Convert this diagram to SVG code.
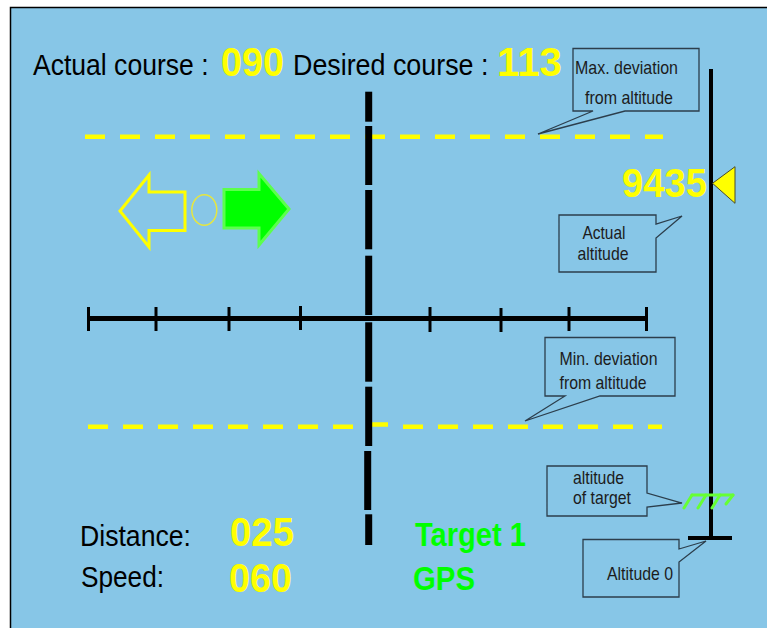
<svg xmlns="http://www.w3.org/2000/svg" width="767" height="628" viewBox="0 0 767 628">
<style>
.t{font-family:"Liberation Sans",Arial,sans-serif;}
.big{font-size:30px;fill:#000;}
.num{font-size:40px;font-weight:bold;fill:#FFFF00;}
.grn{font-size:33px;font-weight:bold;fill:#00FF00;}
.co{font-size:19px;fill:#1c1c1c;}
.box{fill:#87C6E7;stroke:#2c3e4c;stroke-width:1.3;}
.ydash{stroke:#FFFF00;stroke-width:4.5;stroke-dasharray:20 15;fill:none;}
</style>
<rect x="0" y="0" width="767" height="628" fill="#ffffff"/>
<rect x="10" y="7" width="757" height="621" fill="#87C6E7"/>
<path d="M10.5,628 V7.5 H767" fill="none" stroke="#000" stroke-width="1.5"/>

<g id="connectors">
  <line class="ydash" x1="85" y1="136.7" x2="663" y2="136.7"/>
  <line class="ydash" x1="88" y1="426.7" x2="365" y2="426.7"/>
  <line x1="372" y1="424.5" x2="388" y2="424.5" stroke="#FFFF00" stroke-width="4.5"/>
  <line class="ydash" x1="403" y1="426.7" x2="662" y2="426.7"/>
  <g id="vertical-axis" fill="#000">
    <rect x="365.2" y="91.7" width="7" height="30"/>
    <rect x="365.2" y="126" width="7" height="59"/>
    <rect x="365.2" y="190" width="7" height="59.3"/>
    <rect x="365.2" y="255.7" width="7" height="59.3"/>
    <rect x="365.2" y="322.3" width="7" height="59.4"/>
    <rect x="365.2" y="386.7" width="7" height="59.3"/>
    <rect x="364.2" y="451" width="7" height="59"/>
    <rect x="365.2" y="514.3" width="7" height="30.7"/>
  </g>
  <g id="horizontal-axis" stroke="#000">
    <line x1="88" y1="318.5" x2="647" y2="318.5" stroke-width="5"/>
    <g stroke-width="3">
      <line x1="88.5" y1="307" x2="88.5" y2="331"/>
      <line x1="156" y1="307" x2="156" y2="331"/>
      <line x1="229" y1="307" x2="229" y2="331"/>
      <line x1="300.5" y1="306" x2="300.5" y2="330"/>
      <line x1="430" y1="307" x2="430" y2="332"/>
      <line x1="501" y1="308" x2="501" y2="332"/>
      <line x1="569" y1="307" x2="569" y2="331"/>
      <line x1="646.5" y1="307" x2="646.5" y2="331"/>
    </g>
  </g>
  <g id="altitude-scale" stroke="#000" stroke-width="4">
    <line x1="711" y1="69" x2="711" y2="538"/>
    <line x1="688" y1="538" x2="732" y2="538"/>
  </g>
</g>

<g id="course-text" class="t">
  <text class="big" transform="translate(33,75) scale(0.885,1)" x="0" y="0">Actual course :</text>
  <text class="num" x="221" y="75.5" font-size="39" textLength="63" lengthAdjust="spacingAndGlyphs">090</text>
  <text class="big" transform="translate(293,75) scale(0.895,1)" x="0" y="0">Desired course :</text>
  <text class="num" x="497" y="75.5" font-size="39" textLength="65" lengthAdjust="spacingAndGlyphs">113</text>
</g>

<g id="direction-arrows">
  <polygon points="120,211 149,175 149,192 185,192 185,230.5 149,230.5 149,247" fill="none" stroke="#FFFF00" stroke-width="3" stroke-linejoin="miter"/>
  <ellipse cx="204.3" cy="210" rx="12.5" ry="15.3" fill="none" stroke="#E6E640" stroke-width="1.5"/>
  <polygon points="224,189.5 259,189.5 259,173.5 289,209 259,245 259,228 224,228" fill="#00FF00" stroke="#5CFF4C" stroke-width="3"/>
</g>

<g id="max-deviation">
  <path class="box" d="M573,48.5 H699 V111 H625 L538,134 L593,111 H573 Z"/>
  <text class="t co" x="575" y="74" textLength="103" lengthAdjust="spacingAndGlyphs">Max. deviation</text>
  <text class="t co" x="585" y="104" textLength="88" lengthAdjust="spacingAndGlyphs">from altitude</text>
</g>

<g id="actual-altitude-value">
  <text class="t num" x="622" y="197" font-size="41" textLength="85" lengthAdjust="spacingAndGlyphs">9435</text>
  <polygon points="712.5,183.3 735,166.7 735,203.3" fill="#FFFF00" stroke="#4a4a2a" stroke-width="1"/>
</g>

<g id="actual-altitude">
  <path class="box" d="M559,215 H656 V224 L682,216 L656,238 V272 H559 Z"/>
  <text class="t co" x="582.5" y="239" textLength="43" lengthAdjust="spacingAndGlyphs">Actual</text>
  <text class="t co" x="577.5" y="260" textLength="51" lengthAdjust="spacingAndGlyphs">altitude</text>
</g>

<g id="min-deviation">
  <path class="box" d="M545,337.5 H675 V396 H600 L525,421 L565,396 H545 Z"/>
  <text class="t co" x="559.5" y="365" textLength="98" lengthAdjust="spacingAndGlyphs">Min. deviation</text>
  <text class="t co" x="559.5" y="388.5" textLength="87" lengthAdjust="spacingAndGlyphs">from altitude</text>
</g>

<g id="target-altitude">
  <path class="box" d="M547,466 H647 V493 L682,503 L647,507 V516 H547 Z"/>
  <text class="t co" font-size="17.5" x="573" y="484" textLength="51" lengthAdjust="spacingAndGlyphs">altitude</text>
  <text class="t co" font-size="17.5" x="573" y="504" textLength="58" lengthAdjust="spacingAndGlyphs">of target</text>
  <g stroke="#66FF33" stroke-width="3" fill="none" stroke-linecap="round">
    <line x1="692" y1="495" x2="733" y2="495"/>
    <line x1="684" y1="508" x2="692" y2="495"/>
    <line x1="698" y1="508" x2="706" y2="495"/>
    <line x1="712" y1="508" x2="720" y2="495"/>
    <line x1="726" y1="504" x2="733" y2="495"/>
  </g>
</g>

<g id="altitude-zero">
  <path class="box" d="M583,539.5 H679 V549 L706,541 L679,562 V597 H583 Z"/>
  <text class="t co" x="607" y="580" textLength="66" lengthAdjust="spacingAndGlyphs">Altitude 0</text>
</g>

<g id="bottom-info" class="t">
  <text class="big" x="80" y="546" textLength="111" lengthAdjust="spacingAndGlyphs">Distance:</text>
  <text class="big" x="81" y="587" textLength="83" lengthAdjust="spacingAndGlyphs">Speed:</text>
  <text class="num" x="230" y="546" textLength="64" lengthAdjust="spacingAndGlyphs">025</text>
  <text class="num" x="229" y="591.5" textLength="63" lengthAdjust="spacingAndGlyphs">060</text>
  <text class="grn" x="415" y="546" textLength="111" lengthAdjust="spacingAndGlyphs">Target 1</text>
  <text class="grn" x="413" y="590" textLength="62" lengthAdjust="spacingAndGlyphs">GPS</text>
</g>
</svg>
